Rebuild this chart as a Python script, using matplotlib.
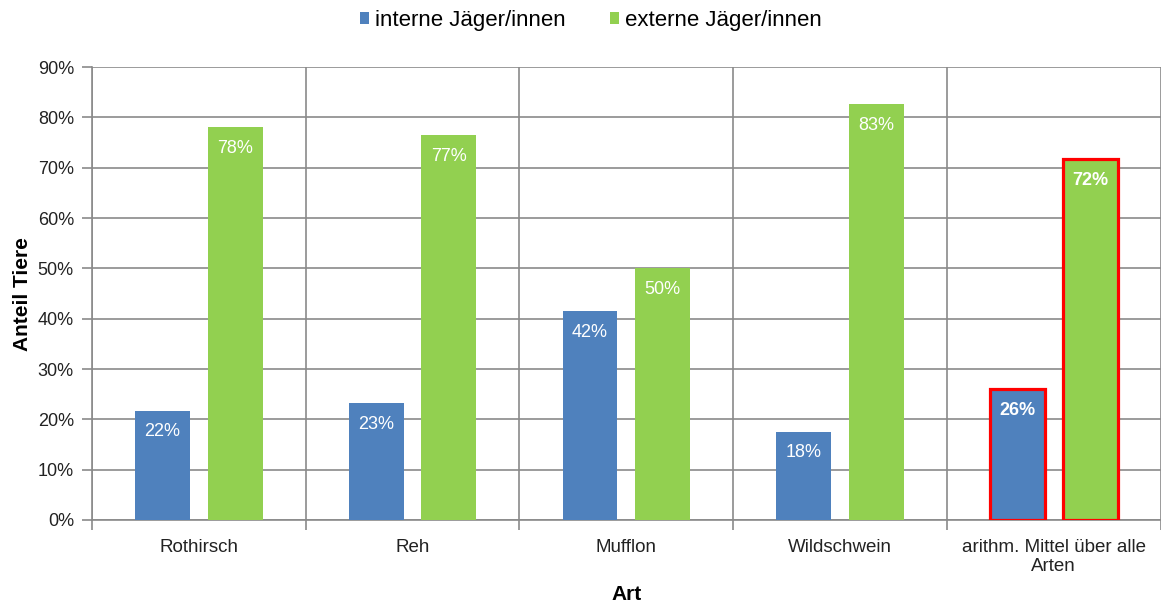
import numpy as np
import matplotlib.pyplot as plt
from matplotlib.ticker import PercentFormatter, FixedLocator

plt.rcParams['font.family'] = ['Liberation Sans', 'DejaVu Sans']

categories = ['Rothirsch', 'Reh', 'Mufflon', 'Wildschwein',
              'arithm. Mittel über alle\nArten']
interne = [21.7, 23.2, 41.5, 17.5, 26.0]
externe = [78.1, 76.5, 50.0, 82.6, 71.7]
labels_int = ['22%', '23%', '42%', '18%', '26%']
labels_ext = ['78%', '77%', '50%', '83%', '72%']
series_names = ['interne Jäger/innen', 'externe Jäger/innen']

blue = '#4F81BD'
green = '#92D050'
grid_col = '#8a8a8a'

fig = plt.figure(figsize=(11.61, 6.05), dpi=100)
ax = fig.add_axes([0.0792, 0.1405, 0.9205, 0.7485])

x = np.arange(len(categories))
w = 0.257
off = 0.17
b1 = ax.bar(x - off, interne, w, color=blue, label=series_names[0], zorder=3)
b2 = ax.bar(x + off, externe, w, color=green, label=series_names[1], zorder=3)

# highlight the mean bars
for b in (b1[-1], b2[-1]):
    b.set_edgecolor('#FF0000')
    b.set_linewidth(2.3)

for i in range(len(categories)):
    bold = 'bold' if i == len(categories) - 1 else 'normal'
    ax.annotate(labels_int[i], (x[i] - off, interne[i]), xytext=(0, -9),
                textcoords='offset points', ha='center', va='top',
                color='white', fontsize=13, fontweight=bold, zorder=4)
    ax.annotate(labels_ext[i], (x[i] + off, externe[i]), xytext=(0, -9),
                textcoords='offset points', ha='center', va='top',
                color='white', fontsize=13, fontweight=bold, zorder=4)

ax.set_xlim(-0.5, len(categories) - 0.5)
ax.set_ylim(0, 90)
ax.yaxis.set_major_locator(FixedLocator(np.arange(0, 91, 10)))
ax.yaxis.set_major_formatter(PercentFormatter(decimals=0))
ax.set_xticks(x)
ax.set_xticklabels(categories, fontsize=13.5, color='#222222', linespacing=1.15)
ax.set_xticks(np.arange(-0.5, len(categories), 1.0), minor=True)
ax.tick_params(axis='x', which='major', length=0, pad=14)
ax.tick_params(axis='x', which='minor', length=7, width=1.2, color=grid_col)
ax.tick_params(axis='y', length=7, width=1.2, color=grid_col,
               labelsize=13, labelcolor='#222222', pad=6)

ax.grid(axis='y', which='major', color=grid_col, linewidth=1.2, zorder=0)
ax.grid(axis='x', which='minor', color=grid_col, linewidth=1.2, zorder=0)
for s in ['top', 'right']:
    ax.spines[s].set_visible(False)
for s in ['left', 'bottom']:
    ax.spines[s].set_color(grid_col)
    ax.spines[s].set_linewidth(1.2)

ax.set_ylabel('Anteil Tiere', fontsize=15, fontweight='bold', labelpad=4)
ax.set_xlabel('Art', fontsize=15, fontweight='bold', labelpad=7)

fig.legend(loc='upper center', bbox_to_anchor=(0.509, 1.017), ncol=2,
           frameon=False, fontsize=16, handlelength=0.42, handleheight=0.42,
           handletextpad=0.25, columnspacing=2.0)

fig.savefig('out.png', dpi=100)
